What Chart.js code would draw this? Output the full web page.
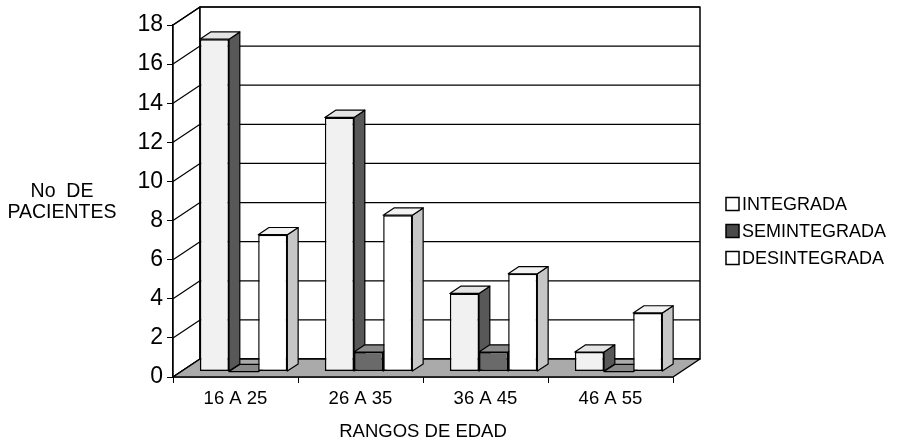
<!DOCTYPE html>
<html>
<head>
<meta charset="utf-8">
<script src="https://cdn.jsdelivr.net/npm/chart.js@4.4.1/dist/chart.umd.min.js"></script>
<style>
  html, body { margin: 0; padding: 0; background: #fff; }
  #wrap { width: 903px; height: 445px; }
</style>
</head>
<body>
<div id="wrap"><canvas id="c" width="903" height="445"></canvas></div>
<script>
// Patients per age range and family type
const categories = ['16 A 25', '26 A 35', '36 A 45', '46 A 55'];
const seriesNames = ['INTEGRADA', 'SEMINTEGRADA', 'DESINTEGRADA'];
const integrada = [17, 13, 4, 1];
const semintegrada = [0, 1, 1, 0];
const desintegrada = [7, 8, 5, 3];
const yTicks = [0, 2, 4, 6, 8, 10, 12, 14, 16, 18];

// Face colours per series: front, side, top
const faces = [
  { front: '#f1f1f1', side: '#585858', top: '#e4e4e4', legend: '#ffffff' },
  { front: '#6a6a6a', side: '#3c3c3c', top: '#8a8a8a', legend: '#4a4a4a' },
  { front: '#ffffff', side: '#c6c6c6', top: '#f2f2f2', legend: '#ffffff' }
];

Chart.defaults.font.family = "'Liberation Sans', Arial, sans-serif";
Chart.defaults.color = '#000';

// Depth of the box (walls) and of the columns, in pixels
const WALL_DX = 27, WALL_DY = -18;
const BAR_FX = 8.1, BAR_FY = -5.4;   // front face set back from the front plane
const BAR_DX = 10.8, BAR_DY = -7.2;  // column depth

function poly(ctx, pts, fill, stroke, lw) {
  ctx.beginPath();
  ctx.moveTo(pts[0][0], pts[0][1]);
  for (let i = 1; i < pts.length; i++) ctx.lineTo(pts[i][0], pts[i][1]);
  ctx.closePath();
  if (fill) { ctx.fillStyle = fill; ctx.fill(); }
  if (stroke) { ctx.strokeStyle = stroke; ctx.lineWidth = lw || 1; ctx.stroke(); }
}

const box3d = {
  id: 'box3d',
  beforeDatasetsDraw(chart) {
    const { ctx, chartArea: a, scales: { y } } = chart;
    ctx.save();
    ctx.lineJoin = 'round';
    // left wall
    poly(ctx, [[a.left, a.top], [a.left + WALL_DX, a.top + WALL_DY],
               [a.left + WALL_DX, a.bottom + WALL_DY], [a.left, a.bottom]], '#fff', '#000', 1.5);
    // back wall
    poly(ctx, [[a.left + WALL_DX, a.top + WALL_DY], [a.right + WALL_DX, a.top + WALL_DY],
               [a.right + WALL_DX, a.bottom + WALL_DY], [a.left + WALL_DX, a.bottom + WALL_DY]], '#fff', '#000', 1.5);
    // gridlines on both walls
    ctx.strokeStyle = '#000';
    ctx.lineWidth = 1.2;
    yTicks.forEach(v => {
      const py = y.getPixelForValue(v);
      ctx.beginPath();
      ctx.moveTo(a.left, py);
      ctx.lineTo(a.left + WALL_DX, py + WALL_DY);
      ctx.lineTo(a.right + WALL_DX, py + WALL_DY);
      ctx.stroke();
    });
    // floor
    poly(ctx, [[a.left, a.bottom], [a.right, a.bottom],
               [a.right + WALL_DX, a.bottom + WALL_DY], [a.left + WALL_DX, a.bottom + WALL_DY]], '#aaaaaa', '#000', 1.5);

    // side and top faces of every column
    chart.data.datasets.forEach((ds, i) => {
      const meta = chart.getDatasetMeta(i);
      meta.data.forEach(el => {
        const p = el.getProps(['x', 'y', 'base', 'width'], true);
        const l = p.x - p.width / 2 + BAR_FX, r = p.x + p.width / 2 + BAR_FX;
        const t = Math.min(p.y, p.base) + BAR_FY, b = Math.max(p.y, p.base) + BAR_FY;
        poly(ctx, [[r, t], [r + BAR_DX, t + BAR_DY], [r + BAR_DX, b + BAR_DY], [r, b]], faces[i].side, '#000', 1.2);
        poly(ctx, [[l, t], [l + BAR_DX, t + BAR_DY], [r + BAR_DX, t + BAR_DY], [r, t]], faces[i].top, '#000', 1.2);
      });
    });
    ctx.restore();
    // front faces are drawn by Chart.js, shifted back into the box
    ctx.save();
    ctx.translate(BAR_FX, BAR_FY);
  },
  afterDatasetsDraw(chart) {
    chart.ctx.restore();
  },
  afterDraw(chart) {
    const ctx = chart.ctx;
    ctx.save();
    ctx.fillStyle = '#000';
    ctx.textAlign = 'center';
    ctx.textBaseline = 'middle';
    ctx.font = "19.5px 'Liberation Sans', Arial, sans-serif";
    ctx.fillText('No  DE', 62, 192);
    ctx.fillText('PACIENTES', 62, 213);

    // legend
    ctx.textAlign = 'left';
    ctx.font = "18px 'Liberation Sans', Arial, sans-serif";
    seriesNames.forEach((name, i) => {
      const cy = 204 + i * 27;
      ctx.fillStyle = faces[i].legend;
      ctx.fillRect(726, cy - 6.5, 13, 13);
      ctx.strokeStyle = '#000';
      ctx.lineWidth = 1.5;
      ctx.strokeRect(726, cy - 6.5, 13, 13);
      ctx.fillStyle = '#000';
      ctx.fillText(name, 742, cy + 1);
    });
    ctx.restore();
  }
};

new Chart(document.getElementById('c'), {
  type: 'bar',
  data: {
    labels: categories,
    datasets: [integrada, semintegrada, desintegrada].map((vals, i) => ({
      label: seriesNames[i],
      data: vals,
      backgroundColor: faces[i].front,
      borderColor: '#000',
      borderWidth: 1.5,
      borderSkipped: false,
      barPercentage: 1,
      categoryPercentage: 0.7,
      clip: false
    }))
  },
  options: {
    responsive: false,
    devicePixelRatio: 1,
    animation: false,
    events: [],
    layout: { padding: { left: 0, right: 230, top: 25, bottom: 0 } },
    plugins: { legend: { display: false }, tooltip: { enabled: false } },
    scales: {
      x: {
        offset: true,
        grid: { offset: true, drawOnChartArea: false, tickLength: 6, color: '#000' },
        border: { color: '#000', width: 1.5 },
        ticks: { font: { size: 18.5 }, color: '#000', padding: 5, maxRotation: 0, autoSkip: false },
        title: { display: true, text: 'RANGOS DE EDAD', font: { size: 18.5 }, color: '#000', padding: { top: 0, bottom: 2 } },
        afterFit(s) { s.height = 68; }
      },
      y: {
        min: 0,
        max: 18,
        afterBuildTicks(s) { s.ticks = yTicks.map(v => ({ value: v })); },
        grid: { drawOnChartArea: false, tickLength: 6, color: '#000' },
        border: { color: '#000', width: 1.5 },
        ticks: { font: { size: 23 }, color: '#000', padding: 4 },
        afterFit(s) { s.width = 173; }
      }
    }
  },
  plugins: [box3d]
});
</script>
</body>
</html>
